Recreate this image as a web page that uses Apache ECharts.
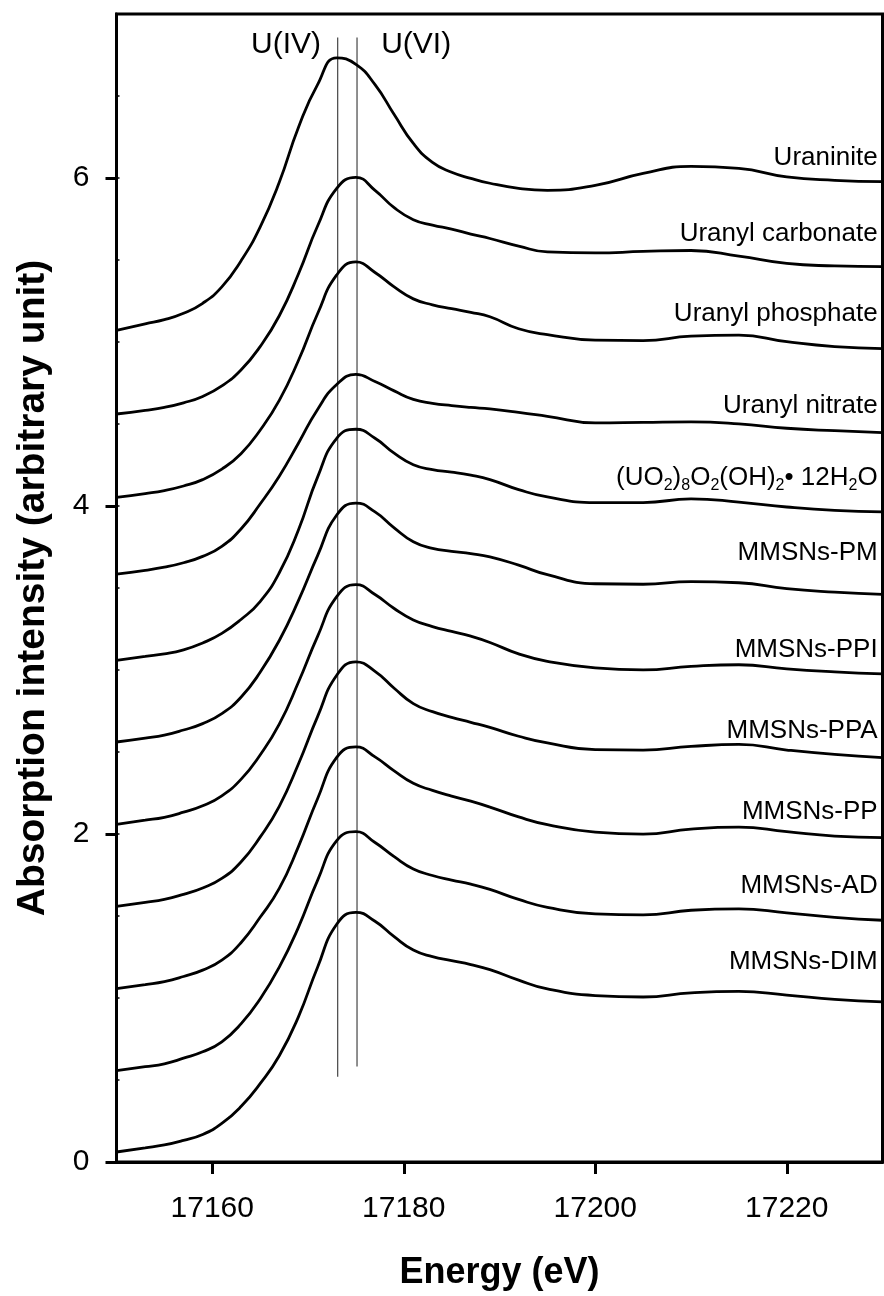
<!DOCTYPE html>
<html><head><meta charset="utf-8">
<script src="https://cdn.jsdelivr.net/npm/echarts@6/dist/echarts.min.js"></script>
<style>html,body{margin:0;padding:0;background:#fff}#c{width:884px;height:1296px}</style>
</head><body><div id="c"></div>
<script>
// Energy grid (eV) shared by all spectra
const energies = [17150, 17153, 17155, 17157, 17159, 17161, 17163, 17165, 17167, 17169, 17171, 17173, 17175, 17177, 17179, 17181, 17183, 17185, 17187, 17189, 17192, 17195, 17200, 17205, 17210, 17215, 17220, 17225, 17230];

// Stacked (offset) XANES spectra, top to bottom
const uraninite       = [5.071, 5.111, 5.136, 5.175, 5.236, 5.336, 5.494, 5.701, 5.974, 6.308, 6.569, 6.733, 6.693, 6.569, 6.387, 6.211, 6.095, 6.035, 5.998, 5.968, 5.937, 5.925, 5.955, 6.028, 6.071, 6.059, 6.007, 5.986, 5.978];
const uranylCarbonate = [4.561, 4.583, 4.601, 4.629, 4.668, 4.732, 4.829, 4.972, 5.160, 5.415, 5.707, 5.937, 6.004, 5.925, 5.819, 5.746, 5.713, 5.688, 5.658, 5.631, 5.585, 5.549, 5.543, 5.552, 5.558, 5.524, 5.479, 5.464, 5.459];
const uranylPhosphate = [4.053, 4.076, 4.094, 4.122, 4.161, 4.225, 4.319, 4.462, 4.644, 4.887, 5.172, 5.409, 5.488, 5.424, 5.336, 5.263, 5.227, 5.203, 5.181, 5.154, 5.081, 5.045, 5.011, 5.008, 5.036, 5.042, 5.002, 4.972, 4.960];
const uranylNitrate   = [3.585, 3.608, 3.627, 3.654, 3.693, 3.754, 3.860, 4.012, 4.182, 4.383, 4.589, 4.741, 4.802, 4.759, 4.702, 4.650, 4.626, 4.612, 4.601, 4.592, 4.571, 4.547, 4.507, 4.510, 4.513, 4.501, 4.474, 4.459, 4.448];
const schoepite       = [3.059, 3.083, 3.098, 3.123, 3.165, 3.223, 3.308, 3.417, 3.593, 3.854, 4.176, 4.413, 4.468, 4.413, 4.322, 4.252, 4.222, 4.207, 4.188, 4.161, 4.100, 4.055, 4.021, 4.021, 4.043, 4.024, 3.994, 3.973, 3.964];
const mmsnsPM         = [2.561, 2.585, 2.603, 2.634, 2.673, 2.734, 2.834, 2.986, 3.180, 3.423, 3.697, 3.945, 4.018, 3.964, 3.867, 3.782, 3.742, 3.724, 3.709, 3.690, 3.639, 3.581, 3.526, 3.523, 3.539, 3.532, 3.496, 3.475, 3.461];
const mmsnsPPI        = [2.059, 2.084, 2.102, 2.133, 2.172, 2.233, 2.333, 2.482, 2.670, 2.925, 3.205, 3.447, 3.520, 3.460, 3.375, 3.305, 3.265, 3.235, 3.206, 3.168, 3.098, 3.053, 3.013, 3.001, 3.022, 3.032, 3.007, 2.989, 2.976];
const mmsnsPPA        = [1.559, 1.583, 1.601, 1.632, 1.671, 1.729, 1.829, 1.981, 2.169, 2.427, 2.716, 2.968, 3.050, 2.992, 2.889, 2.795, 2.746, 2.711, 2.681, 2.650, 2.596, 2.555, 2.515, 2.512, 2.534, 2.546, 2.512, 2.485, 2.466];
const mmsnsPP         = [1.057, 1.082, 1.100, 1.131, 1.170, 1.231, 1.337, 1.492, 1.668, 1.923, 2.215, 2.467, 2.531, 2.470, 2.385, 2.309, 2.266, 2.231, 2.200, 2.164, 2.104, 2.057, 2.011, 1.999, 2.030, 2.042, 2.014, 1.987, 1.978];
const mmsnsAD         = [0.557, 0.581, 0.599, 0.633, 0.672, 0.733, 0.842, 0.994, 1.188, 1.431, 1.717, 1.960, 2.014, 1.948, 1.862, 1.787, 1.747, 1.719, 1.694, 1.662, 1.601, 1.553, 1.513, 1.507, 1.535, 1.544, 1.519, 1.492, 1.474];
const mmsnsDIM        = [0.061, 0.086, 0.104, 0.132, 0.168, 0.235, 0.338, 0.478, 0.648, 0.885, 1.188, 1.450, 1.522, 1.468, 1.374, 1.292, 1.252, 1.228, 1.204, 1.173, 1.109, 1.055, 1.015, 1.006, 1.031, 1.040, 1.018, 0.991, 0.976];

const spectra = [uraninite, uranylCarbonate, uranylPhosphate, uranylNitrate, schoepite, mmsnsPM, mmsnsPPI, mmsnsPPA, mmsnsPP, mmsnsAD, mmsnsDIM];
const seriesNames = ['Uraninite', 'Uranyl carbonate', 'Uranyl phosphate', 'Uranyl nitrate', '(UO2)8O2(OH)2·12H2O', 'MMSNs-PM', 'MMSNs-PPI', 'MMSNs-PPA', 'MMSNs-PP', 'MMSNs-AD', 'MMSNs-DIM'];
const labelTexts = ['Uraninite', 'Uranyl carbonate', 'Uranyl phosphate', 'Uranyl nitrate', '(UO{s|2}){s|8}O{s|2}(OH){s|2}• 12H{s|2}O', 'MMSNs-PM', 'MMSNs-PPI', 'MMSNs-PPA', 'MMSNs-PP', 'MMSNs-AD', 'MMSNs-DIM'];
const labelLevels = [6.120, 5.658, 5.172, 4.613, 4.170, 3.715, 3.126, 2.628, 2.136, 1.686, 1.219];
const labelAnchorEnergy = 17229.5;

// Reference lines for U(IV) and U(VI)
const refNames = ['U(IV)', 'U(VI)'];
const refEnergies = [17173.1, 17175.12];
const refBottoms = [0.52, 0.583];
const refTop = 6.856;
const refLabelEnergies = [17167.7, 17181.3];
const refLabelLevel = 6.812;

// Axis ticks
const xTicks = [17160, 17180, 17200, 17220];
const yTicks = [0, 2, 4, 6];

const FONT = "'Liberation Sans', Arial, Helvetica, sans-serif";
const chart = echarts.init(document.getElementById('c'), null, {renderer: 'canvas'});

const series = [];
spectra.forEach((vals, i) => {
  series.push({
    name: seriesNames[i], type: 'line', smooth: true, showSymbol: false, silent: true,
    lineStyle: {color: '#000', width: 2.8},
    data: energies.map((e, k) => [e, vals[k]]),
    z: 3
  });
});
refEnergies.forEach((e, i) => {
  series.push({
    name: refNames[i] + ' line', type: 'line', showSymbol: false, silent: true,
    lineStyle: {color: '#444', width: 1.2},
    data: [[e, refBottoms[i]], [e, refTop]],
    z: 2
  });
});
series.push({
  name: 'ref labels', type: 'scatter', symbolSize: 0.1, silent: true,
  itemStyle: {color: '#fff', opacity: 1},
  data: refLabelEnergies.map((e) => [e, refLabelLevel]),
  label: {
    show: true, position: 'inside', color: '#000', opacity: 1, textBorderWidth: 0, fontSize: 30, fontFamily: FONT,
    formatter: (p) => refNames[p.dataIndex]
  },
  z: 5
});
series.push({
  name: 'curve labels', type: 'scatter', symbolSize: 0.1, silent: true,
  itemStyle: {color: '#fff', opacity: 1},
  data: labelLevels.map((v) => [labelAnchorEnergy, v]),
  label: {
    show: true, position: 'left', distance: 0, color: '#000', opacity: 1, textBorderWidth: 0, fontSize: 26, fontFamily: FONT,
    lineHeight: 30,
    formatter: (p) => labelTexts[p.dataIndex],
    rich: {s: {fontSize: 16, fontFamily: FONT, color: '#000', verticalAlign: 'bottom', lineHeight: 12}}
  },
  z: 5
});

chart.setOption({
  animation: false,
  backgroundColor: '#fff',
  grid: {left: 116.5, right: 1.5, top: 14, bottom: 129.3, show: true, borderColor: '#000', borderWidth: 3, containLabel: false},
  xAxis: {
    type: 'value', min: 17150, max: 17230,
    name: 'Energy (eV)', nameLocation: 'middle', nameGap: 93,
    nameTextStyle: {fontSize: 36, fontWeight: 'bold', color: '#000', fontFamily: FONT},
    axisLine: {show: true, lineStyle: {color: '#000', width: 3}},
    axisTick: {show: true, inside: false, length: 12, lineStyle: {color: '#000', width: 3}, customValues: xTicks},
    axisLabel: {show: true, fontSize: 30, color: '#000', fontFamily: FONT, margin: 32, customValues: xTicks, formatter: (v) => String(v)},
    splitLine: {show: false}
  },
  yAxis: [{
    type: 'value', min: 0, max: 7, position: 'left',
    name: 'Absorption intensity (arbitrary unit)', nameLocation: 'middle', nameGap: 64,
    nameTextStyle: {fontSize: 39, fontWeight: 'bold', color: '#000', fontFamily: FONT},
    axisLine: {show: true, lineStyle: {color: '#000', width: 3}},
    axisTick: {show: true, inside: false, length: 11, lineStyle: {color: '#000', width: 3}, customValues: yTicks},
    axisLabel: {show: true, fontSize: 30, color: '#000', fontFamily: FONT, margin: 27, customValues: yTicks, formatter: (v) => String(v)},
    splitLine: {show: false}
  }, {
    type: 'value', min: 0, max: 7, interval: 0.5, position: 'left', offset: 0,
    axisLine: {show: false},
    axisTick: {show: true, inside: true, length: 3, lineStyle: {color: '#000', width: 1.5}},
    axisLabel: {show: false},
    splitLine: {show: false}
  }],
  series: series
});
</script>
</body></html>
